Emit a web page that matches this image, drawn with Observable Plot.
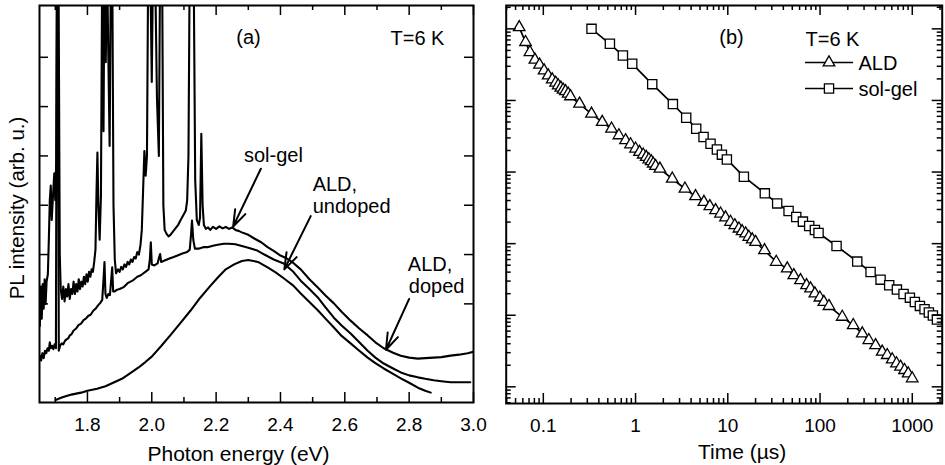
<!DOCTYPE html>
<html><head><meta charset="utf-8">
<script src="https://cdn.jsdelivr.net/npm/d3@7"></script>
<script src="https://cdn.jsdelivr.net/npm/@observablehq/plot@0.6"></script>
<style>
html,body{margin:0;padding:0;background:#fff;}
#wrap{position:relative;width:945px;height:465px;overflow:hidden;}
#pa,#pb{position:absolute;top:0;}
#pa{left:0;} #pb{left:480px;}
svg{overflow:visible;}
</style></head><body><div id="wrap"><div id="pb"></div><div id="pa"></div></div>
<script>
// ---------- Panel (a): PL spectra, [photon energy (eV), PL intensity (arb. u.)] ----------
const solGelSpectrum = [[1.652,1.55],[1.655,2.35],[1.658,1.7],[1.661,2.4],[1.664,1.9],[1.667,2.5],[1.670,2.0],[1.673,2.45],[1.677,2.6],[1.680,3.3],[1.683,4.1],[1.686,4.4],[1.689,3.7],[1.693,4.2],[1.697,4.65],[1.700,4.1],[1.703,4.9],[1.706,9],[1.710,9],[1.714,3.0],[1.717,2.3],[1.721,2.1],[1.725,2.35],[1.729,2.05],[1.733,2.3],[1.737,2.15],[1.741,2.4],[1.745,2.1],[1.749,2.3],[1.753,2.2],[1.757,2.45],[1.761,2.2],[1.765,2.4],[1.769,2.25],[1.773,2.5],[1.777,2.3],[1.781,2.45],[1.785,2.35],[1.789,2.55],[1.793,2.4],[1.797,2.6],[1.801,2.45],[1.805,2.65],[1.809,2.55],[1.813,2.7],[1.817,2.65],[1.821,2.85],[1.825,3.1],[1.828,4.2],[1.831,5.07],[1.834,4.0],[1.838,3.3],[1.842,4.2],[1.846,9],[1.850,5.5],[1.853,9],[1.857,6.9],[1.861,9],[1.865,7.0],[1.869,5.2],[1.873,9],[1.877,9],[1.881,4.0],[1.885,2.9],[1.889,2.62],[1.895,2.7],[1.900,2.65],[1.905,2.75],[1.910,2.7],[1.915,2.8],[1.920,2.75],[1.925,2.85],[1.930,2.8],[1.935,2.9],[1.940,2.85],[1.945,2.95],[1.950,2.92],[1.955,3.05],[1.960,3.0],[1.965,3.2],[1.969,3.5],[1.973,4.3],[1.977,5.1],[1.981,4.6],[1.985,5.0],[1.989,9],[1.995,9],[2.000,6.5],[2.004,9],[2.010,9],[2.016,6.2],[2.022,5.0],[2.026,9],[2.032,9],[2.036,4.0],[2.040,3.5],[2.046,3.42],[2.052,3.37],[2.058,3.4],[2.064,3.45],[2.070,3.5],[2.076,3.55],[2.082,3.6],[2.088,3.68],[2.094,3.75],[2.100,3.82],[2.106,3.9],[2.110,4.1],[2.114,5.0],[2.118,9],[2.124,9],[2.130,9],[2.135,4.5],[2.140,3.7],[2.146,3.6],[2.150,3.75],[2.154,5.45],[2.158,4.0],[2.162,3.6],[2.168,3.52],[2.175,3.55],[2.182,3.5],[2.19,3.56],[2.20,3.52],[2.21,3.57],[2.22,3.53],[2.23,3.56],[2.24,3.52],[2.25,3.55],[2.26,3.5],[2.27,3.48],[2.28,3.45],[2.30,3.4],[2.32,3.32],[2.34,3.25],[2.36,3.15],[2.38,3.07],[2.40,2.98],[2.42,2.92],[2.44,2.83],[2.463,2.7],[2.49,2.5],[2.516,2.33],[2.54,2.17],[2.566,2.01],[2.59,1.84],[2.618,1.66],[2.645,1.5],[2.671,1.36],[2.695,1.22],[2.721,1.1],[2.75,1.01],[2.774,0.95],[2.80,0.91],[2.827,0.89],[2.85,0.9],[2.876,0.91],[2.90,0.92],[2.929,0.95],[2.955,0.97],[2.982,1.0],[3.0,1.03]];

const aldDopedSpectrum = [[1.652,0.95],[1.656,0.85],[1.660,1.0],[1.664,0.9],[1.668,1.05],[1.672,1.0],[1.676,1.1],[1.680,1.05],[1.683,1.22],[1.686,1.1],[1.690,1.15],[1.694,1.08],[1.698,1.18],[1.702,1.1],[1.705,9],[1.708,9],[1.711,1.05],[1.715,1.15],[1.72,1.2],[1.725,1.18],[1.73,1.25],[1.735,1.28],[1.74,1.3],[1.745,1.36],[1.75,1.38],[1.757,1.46],[1.765,1.5],[1.772,1.57],[1.78,1.6],[1.788,1.67],[1.795,1.7],[1.803,1.76],[1.81,1.78],[1.818,1.86],[1.825,1.9],[1.833,1.97],[1.84,2.02],[1.846,2.08],[1.850,2.5],[1.853,2.85],[1.856,2.2],[1.860,2.12],[1.865,2.2],[1.870,2.18],[1.874,2.5],[1.877,2.74],[1.880,2.25],[1.885,2.25],[1.89,2.28],[1.90,2.3],[1.913,2.34],[1.925,2.42],[1.94,2.47],[1.955,2.55],[1.966,2.58],[1.98,2.65],[1.99,2.7],[1.994,2.9],[1.997,3.25],[2.000,2.8],[2.008,2.78],[2.018,2.82],[2.023,2.95],[2.026,3.01],[2.029,2.85],[2.04,2.88],[2.055,2.92],[2.068,2.95],[2.08,2.98],[2.095,3.02],[2.11,3.05],[2.118,3.1],[2.122,3.4],[2.125,3.69],[2.129,3.3],[2.134,3.12],[2.145,3.12],[2.16,3.15],[2.173,3.15],[2.19,3.18],[2.205,3.2],[2.224,3.22],[2.24,3.22],[2.26,3.21],[2.277,3.18],[2.30,3.14],[2.328,3.08],[2.35,3.0],[2.379,2.9],[2.41,2.82],[2.44,2.65],[2.463,2.47],[2.49,2.3],[2.516,2.13],[2.54,1.93],[2.566,1.72],[2.59,1.56],[2.618,1.40],[2.645,1.22],[2.671,1.05],[2.695,0.91],[2.721,0.79],[2.75,0.69],[2.774,0.61],[2.80,0.55],[2.827,0.51],[2.85,0.48],[2.876,0.45],[2.90,0.43],[2.929,0.41],[2.96,0.41],[2.99,0.41]];

const aldUndopedSpectrum = [[1.701,0.05],[1.72,0.1],[1.75,0.16],[1.78,0.2],[1.80,0.24],[1.83,0.28],[1.856,0.33],[1.88,0.4],[1.907,0.48],[1.93,0.58],[1.959,0.71],[1.98,0.82],[2.0,0.93],[2.03,1.15],[2.06,1.38],[2.09,1.62],[2.12,1.86],[2.15,2.12],[2.18,2.35],[2.206,2.54],[2.23,2.7],[2.256,2.8],[2.28,2.87],[2.30,2.89],[2.33,2.85],[2.36,2.74],[2.385,2.64],[2.41,2.52],[2.44,2.37],[2.463,2.21],[2.49,2.04],[2.516,1.87],[2.54,1.7],[2.566,1.52],[2.59,1.35],[2.618,1.2],[2.645,1.05],[2.671,0.91],[2.695,0.8],[2.721,0.69],[2.75,0.58],[2.774,0.49],[2.80,0.4],[2.827,0.3],[2.85,0.24],[2.867,0.2]];

const energyMajorTicks = [1.8, 2.0, 2.2, 2.4, 2.6, 2.8, 3.0];
const energyTickLabels = ["1.8", "2.0", "2.2", "2.4", "2.6", "2.8", "3.0"];
const energyMinorTicks = [1.7, 1.9, 2.1, 2.3, 2.5, 2.7, 2.9];
const intensityTicksA = [2, 3, 4, 5, 6, 7];

// annotations of panel (a), in data units
const labelsA = [
  {x: 2.378, y: 4.88, text: "sol-gel", anchor: "middle"},
  {x: 2.500, y: 4.29, text: "ALD,", anchor: "start"},
  {x: 2.500, y: 3.84, text: "undoped", anchor: "start"},
  {x: 2.796, y: 2.66, text: "ALD,", anchor: "start"},
  {x: 2.799, y: 2.22, text: "doped", anchor: "start"}
];
const arrowsA = [
  {x1: 2.339, y1: 4.74, x2: 2.253, y2: 3.57},
  {x1: 2.494, y1: 3.78, x2: 2.412, y2: 2.70},
  {x1: 2.800, y1: 2.10, x2: 2.728, y2: 1.07}
];

// ---------- Panel (b): PL decay, time (µs) vs intensity ----------
const aldTime = [0.0548,0.0642,0.0716,0.0811,0.0911,0.102,0.113,0.125,0.136,0.145,0.155,0.164,0.174,0.186,0.197,0.247,0.333,0.435,0.549,0.660,0.779,0.883,1.00,1.105,1.211,1.305,1.395,1.479,1.554,1.647,1.836,2.50,3.43,4.47,5.51,6.39,7.37,8.35,9.45,10.7,11.9,13.2,14.3,15.6,16.9,18.4,20.0,25.0,33.5,44.1,52.0,61.4,71.4,78.9,87.9,99.6,110,125,174,229,287,338,400,472,535,606,675,746,824,903,998];
const aldIntensity = [105000,65200,47200,36900,31500,26200,22300,19600,17600,16200,15000,14100,13400,12400,11400,8980,6510,4990,4030,3250,2770,2430,2120,1900,1750,1620,1500,1410,1310,1210,1110,807,585,458,381,332,292,262,231,201,180,162,149,138,124,114,105,80.7,55.5,44.8,36.1,30.8,26.2,23.6,20.1,17.6,15.3,13.4,9.48,7.25,5.55,4.48,3.81,3.08,2.77,2.41,2.12,1.90,1.71,1.53,1.31];
const solGelTime = [0.333,0.527,0.729,0.920,1.516,2.539,3.541,4.545,5.459,6.50,7.62,8.63,9.77,14.94,25.2,34.3,45.6,55.2,65.2,76.3,87.9,96.3,151,253,353,453,562,681,804,942,1066,1209,1358,1513,1672,1849];
const solGelIntensity = [100000,61800,42400,32500,16900,8890,5730,4030,3080,2490,2070,1750,1500,861,504,365,286,236,203,176,155,141,92.8,56.1,40.2,31.4,26.2,22.8,19.8,17.6,15.3,13.5,12.1,10.9,9.89,8.70];

const timeMajorTicks = [0.1, 1, 10, 100, 1000];
const timeTickLabels = ["0.1", "1", "10", "100", "1000"];
const intensityDecadesB = [1, 10, 100, 1000, 10000, 100000];
const minorMultipliers = [2, 3, 4, 5, 6, 7, 8, 9];

const FONT = "'Liberation Sans', Arial, Helvetica, sans-serif";
const H = 465;

// ---------------- Panel (a) ----------------
const mA = {left: 39, right: 7, top: 5, bottom: 63};
const fwA = 480 - mA.left - mA.right, fhA = H - mA.top - mA.bottom;
const toPts = arr => arr.map(([e, v]) => ({e, v}));

const plotA = Plot.plot({
  width: 480, height: H,
  marginLeft: mA.left, marginRight: mA.right, marginTop: mA.top, marginBottom: mA.bottom,
  style: {background: "transparent", overflow: "visible", fontFamily: FONT, color: "black"},
  x: {type: "linear", domain: [1.651, 3.0], axis: null},
  y: {type: "linear", domain: [0, 8.05], axis: null},
  marks: [
    Plot.line(toPts(aldUndopedSpectrum), {x: "e", y: "v", stroke: "black", strokeWidth: 2.1, clip: true}),
    Plot.line(toPts(aldDopedSpectrum), {x: "e", y: "v", stroke: "black", strokeWidth: 2.1, clip: true}),
    Plot.line(toPts(solGelSpectrum), {x: "e", y: "v", stroke: "black", strokeWidth: 2.1, clip: true}),
    // ticks (inside)
    Plot.ruleX(energyMajorTicks, {x: d => d, insetTop: fhA - 10, stroke: "black", strokeWidth: 1.5}),
    Plot.ruleX(energyMajorTicks, {x: d => d, insetBottom: fhA - 10, stroke: "black", strokeWidth: 1.5}),
    Plot.ruleX(energyMinorTicks, {x: d => d, insetTop: fhA - 5, stroke: "black", strokeWidth: 1.5}),
    Plot.ruleX(energyMinorTicks, {x: d => d, insetBottom: fhA - 5, stroke: "black", strokeWidth: 1.5}),
    Plot.ruleY(intensityTicksA, {y: d => d, insetRight: fwA - 9, stroke: "black", strokeWidth: 1.5}),
    Plot.ruleY(intensityTicksA, {y: d => d, insetLeft: fwA - 9, stroke: "black", strokeWidth: 1.5}),
    Plot.frame({stroke: "black", strokeWidth: 2}),
    // tick labels and titles
    Plot.text(energyMajorTicks, {x: d => d, text: (d, i) => energyTickLabels[i], frameAnchor: "bottom", dy: 28, lineAnchor: "bottom", textAnchor: "middle", fontSize: 19, fontFamily: FONT, fill: "black"}),
    Plot.text(["Photon energy (eV)"], {text: d => d, frameAnchor: "bottom", dx: -18, dy: 58, lineAnchor: "bottom", textAnchor: "middle", fontSize: 21, fontFamily: FONT, fill: "black"}),
    Plot.text(["PL intensity (arb. u.)"], {text: d => d, frameAnchor: "left", rotate: -90, dx: -16, dy: 4, lineAnchor: "bottom", textAnchor: "middle", fontSize: 20.5, fontFamily: FONT, fill: "black"}),
    Plot.text(["(a)"], {text: d => d, frameAnchor: "top-left", dx: 209, dy: 38, lineAnchor: "bottom", textAnchor: "middle", fontSize: 20, fontFamily: FONT, fill: "black"}),
    Plot.text(["T=6 K"], {text: d => d, frameAnchor: "top-left", dx: 351, dy: 39, lineAnchor: "bottom", textAnchor: "start", fontSize: 20, fontFamily: FONT, fill: "black"}),
    // annotations
    Plot.text(labelsA.filter(d => d.anchor === "middle"), {x: "x", y: "y", text: "text", textAnchor: "middle", lineAnchor: "bottom", fontSize: 20, fontFamily: FONT, fill: "black"}),
    Plot.text(labelsA.filter(d => d.anchor === "start"), {x: "x", y: "y", text: "text", textAnchor: "start", lineAnchor: "bottom", fontSize: 20, fontFamily: FONT, fill: "black"}),
    Plot.arrow(arrowsA, {x1: "x1", y1: "y1", x2: "x2", y2: "y2", stroke: "black", strokeWidth: 2, headLength: 13, headAngle: 38})
  ]
});
document.getElementById("pa").appendChild(plotA);

// ---------------- Panel (b) ----------------
const mB = {left: 25.7, right: 3.3, top: 5, bottom: 62};
const fwB = 465 - mB.left - mB.right, fhB = H - mB.top - mB.bottom;
const xDomainB = [0.0396, 2110], yDomainB = [0.585, 212000];
const inDom = (v, dom) => v >= dom[0] && v <= dom[1];
const timeMinorTicks = [0.01, 0.1, 1, 10, 100, 1000].flatMap(d => minorMultipliers.map(k => d * k)).filter(v => inDom(v, xDomainB));
const intensityMinorB = [0.1, ...intensityDecadesB].flatMap(d => minorMultipliers.map(k => d * k)).filter(v => inDom(v, yDomainB));

const aldDecay = aldTime.map((t, i) => ({t, I: aldIntensity[i]}));
const solGelDecay = solGelTime.map((t, i) => ({t, I: solGelIntensity[i]}));
const hline = {draw(ctx) { ctx.moveTo(-24, 0); ctx.lineTo(24, 0); }};

const plotB = Plot.plot({
  width: 465, height: H,
  marginLeft: mB.left, marginRight: mB.right, marginTop: mB.top, marginBottom: mB.bottom,
  style: {background: "transparent", overflow: "visible", fontFamily: FONT, color: "black"},
  x: {type: "log", domain: xDomainB, axis: null},
  y: {type: "log", domain: yDomainB, axis: null},
  marks: [
    Plot.line(aldDecay, {x: "t", y: "I", stroke: "black", strokeWidth: 1.7}),
    Plot.line(solGelDecay, {x: "t", y: "I", stroke: "black", strokeWidth: 1.7}),
    Plot.dot(aldDecay, {x: "t", y: "I", symbol: "triangle", r: 4.3, fill: "white", stroke: "black", strokeWidth: 1.3}),
    Plot.dot(solGelDecay, {x: "t", y: "I", symbol: "square", r: 5.2, fill: "white", stroke: "black", strokeWidth: 1.3}),
    // ticks
    Plot.ruleX(timeMajorTicks, {x: d => d, insetTop: fhB - 10, stroke: "black", strokeWidth: 1.5}),
    Plot.ruleX(timeMajorTicks, {x: d => d, insetBottom: fhB - 10, stroke: "black", strokeWidth: 1.5}),
    Plot.ruleX(timeMinorTicks, {x: d => d, insetTop: fhB - 5, stroke: "black", strokeWidth: 1.5}),
    Plot.ruleX(timeMinorTicks, {x: d => d, insetBottom: fhB - 5, stroke: "black", strokeWidth: 1.5}),
    Plot.ruleY(intensityDecadesB, {y: d => d, insetRight: fwB - 10, stroke: "black", strokeWidth: 1.5}),
    Plot.ruleY(intensityDecadesB, {y: d => d, insetLeft: fwB - 10, stroke: "black", strokeWidth: 1.5}),
    Plot.ruleY(intensityMinorB, {y: d => d, insetRight: fwB - 5, stroke: "black", strokeWidth: 1.5}),
    Plot.ruleY(intensityMinorB, {y: d => d, insetLeft: fwB - 5, stroke: "black", strokeWidth: 1.5}),
    Plot.frame({stroke: "black", strokeWidth: 2}),
    Plot.text(timeMajorTicks, {x: d => d, text: (d, i) => timeTickLabels[i], frameAnchor: "bottom", dy: 28, lineAnchor: "bottom", textAnchor: "middle", fontSize: 19, fontFamily: FONT, fill: "black"}),
    Plot.text(["Time (\u00b5s)"], {text: d => d, frameAnchor: "bottom", dx: 18, dy: 55, lineAnchor: "bottom", textAnchor: "middle", fontSize: 21, fontFamily: FONT, fill: "black"}),
    Plot.text(["(b)"], {text: d => d, frameAnchor: "top-left", dx: 225.3, dy: 38, lineAnchor: "bottom", textAnchor: "middle", fontSize: 20, fontFamily: FONT, fill: "black"}),
    Plot.text(["T=6 K"], {text: d => d, frameAnchor: "top-left", dx: 299.3, dy: 40, lineAnchor: "bottom", textAnchor: "start", fontSize: 20, fontFamily: FONT, fill: "black"}),
    // legend
    Plot.dot([0], {frameAnchor: "top-left", dx: 322.8, dy: 57, symbol: hline, stroke: "black", strokeWidth: 1.7, fill: "none"}),
    Plot.dot([0], {frameAnchor: "top-left", dx: 322.8, dy: 57, symbol: "triangle", r: 4.3, fill: "white", stroke: "black", strokeWidth: 1.3}),
    Plot.text(["ALD"], {text: d => d, frameAnchor: "top-left", dx: 352.3, dy: 64.5, lineAnchor: "bottom", textAnchor: "start", fontSize: 20, fontFamily: FONT, fill: "black"}),
    Plot.dot([0], {frameAnchor: "top-left", dx: 322.8, dy: 83, symbol: hline, stroke: "black", strokeWidth: 1.7, fill: "none"}),
    Plot.dot([0], {frameAnchor: "top-left", dx: 322.8, dy: 83, symbol: "square", r: 5.2, fill: "white", stroke: "black", strokeWidth: 1.3}),
    Plot.text(["sol-gel"], {text: d => d, frameAnchor: "top-left", dx: 352.3, dy: 90, lineAnchor: "bottom", textAnchor: "start", fontSize: 20, fontFamily: FONT, fill: "black"})
  ]
});
document.getElementById("pb").appendChild(plotB);
</script></body></html>
